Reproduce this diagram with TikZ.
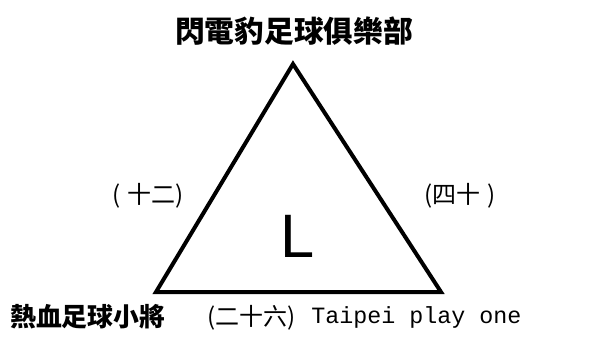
\documentclass[tikz,border=0pt]{standalone}
\usepackage{fontspec}
\newfontfamily\cjk{Noto Sans CJK TC}
\newfontfamily\monof{Liberation Mono}
\newfontfamily\sansf{Liberation Sans}
\begin{document}
\begin{tikzpicture}[x=0.75pt,y=-0.75pt,
  lbl/.style={inner sep=0pt,anchor=center},
  bigcjk/.style={lbl,font=\cjk\bfseries\fontsize{22.3pt}{26pt}\selectfont},
  midcjk/.style={lbl,font=\cjk\bfseries\fontsize{19.4pt}{22pt}\selectfont},
  par/.style={lbl,font=\cjk\fontsize{18pt}{21pt}\selectfont}]
\useasboundingbox (0,0) rectangle (604,343);
\coordinate (A) at (293,64);
\coordinate (B) at (156,292);
\coordinate (C) at (441,292);
\draw[line width=3pt,line join=miter] (A) -- (B) -- (C) -- cycle;
\node[bigcjk] (top) at (294,31) {閃電豹足球俱樂部};
\node[par] (left) at (148,196) {(\hspace{0.3em}十二)};
\node[par] (right) at (460,196) {(四十\hspace{0.3em})};
\node[lbl,font=\sansf\fontsize{46pt}{50pt}\selectfont] (L) at (298,236) {L};
\node[midcjk,anchor=west] (bl) at (10,317) {熱血足球小將};
\node[par,anchor=west] (bm) at (207,318) {(二十六)};
\node[lbl,anchor=west,font=\monof\fontsize{17.5pt}{20pt}\selectfont] (br) at (311,317) {Taipei play one};
\end{tikzpicture}
\end{document}
